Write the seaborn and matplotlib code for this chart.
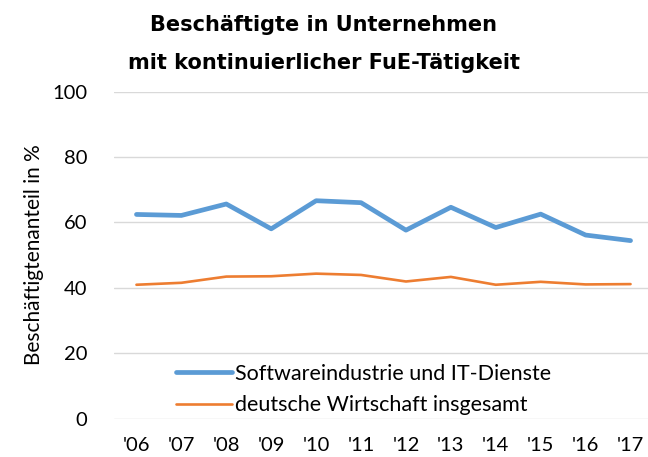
import matplotlib
matplotlib.use("Agg")
import matplotlib.pyplot as plt
import seaborn as sns
import pandas as pd

# Werte
jahre = ["'06", "'07", "'08", "'09", "'10", "'11", "'12", "'13", "'14", "'15", "'16", "'17"]
software = [62.4, 62.1, 65.6, 58.0, 66.6, 66.0, 57.6, 64.6, 58.4, 62.5, 56.1, 54.4]
gesamt = [40.9, 41.5, 43.4, 43.5, 44.3, 43.9, 41.9, 43.3, 40.9, 41.8, 41.0, 41.1]
reihen = ["Softwareindustrie und IT-Dienste", "deutsche Wirtschaft insgesamt"]

df = pd.DataFrame({
    "jahr": jahre * 2,
    "x": list(range(len(jahre))) * 2,
    "wert": software + gesamt,
    "reihe": [reihen[0]] * len(jahre) + [reihen[1]] * len(jahre),
})

sns.set_style("white")
plt.rcParams["font.family"] = ["Lato", "DejaVu Sans"]
plt.rcParams["text.color"] = "black"
plt.rcParams["axes.labelcolor"] = "black"

fig = plt.figure(figsize=(6.48, 4.57), dpi=100)
ax = fig.add_axes([114 / 648, (457 - 418.5) / 457, 539 / 648, 327 / 457])

sns.lineplot(data=df, x="x", y="wert", hue="reihe", size="reihe",
             sizes={reihen[0]: 3.4, reihen[1]: 1.9},
             palette={reihen[0]: "#5B9BD5", reihen[1]: "#ED7D31"},
             ax=ax, legend=False)

ax.set_xlim(-0.5, len(jahre) - 0.5)
ax.set_ylim(0, 100)
ax.set_yticks([0, 20, 40, 60, 80, 100])
ax.set_xticks(range(len(jahre)))
ax.set_xticklabels(jahre)
ax.tick_params(axis="both", length=0, labelsize=14.5, colors="black")
ax.tick_params(axis="x", pad=13)
ax.tick_params(axis="y", pad=19)
ax.grid(axis="y", color="#D9D9D9", lw=1)
for s in ax.spines.values():
    s.set_visible(False)
ax.set_xlabel("")
ax.set_ylabel("Beschäftigtenanteil in %", fontsize=15, labelpad=6)

handles = [plt.Line2D([], [], color="#5B9BD5", lw=3.4),
           plt.Line2D([], [], color="#ED7D31", lw=1.9)]
ax.legend(handles, reihen, loc="lower left", bbox_to_anchor=(0.08, -0.05),
          frameon=False, fontsize=15.5, handlelength=2.6, handletextpad=0.12,
          labelspacing=0.55, labelcolor="black")

fig.text(0.5, 0.945, "Beschäftigte in Unternehmen", ha="center", va="center",
         fontsize=15, fontweight="bold", family="DejaVu Sans", color="black")
fig.text(0.5, 0.862, "mit kontinuierlicher FuE-Tätigkeit", ha="center", va="center",
         fontsize=15, fontweight="bold", family="DejaVu Sans", color="black")

fig.savefig("out.png", dpi=100)
